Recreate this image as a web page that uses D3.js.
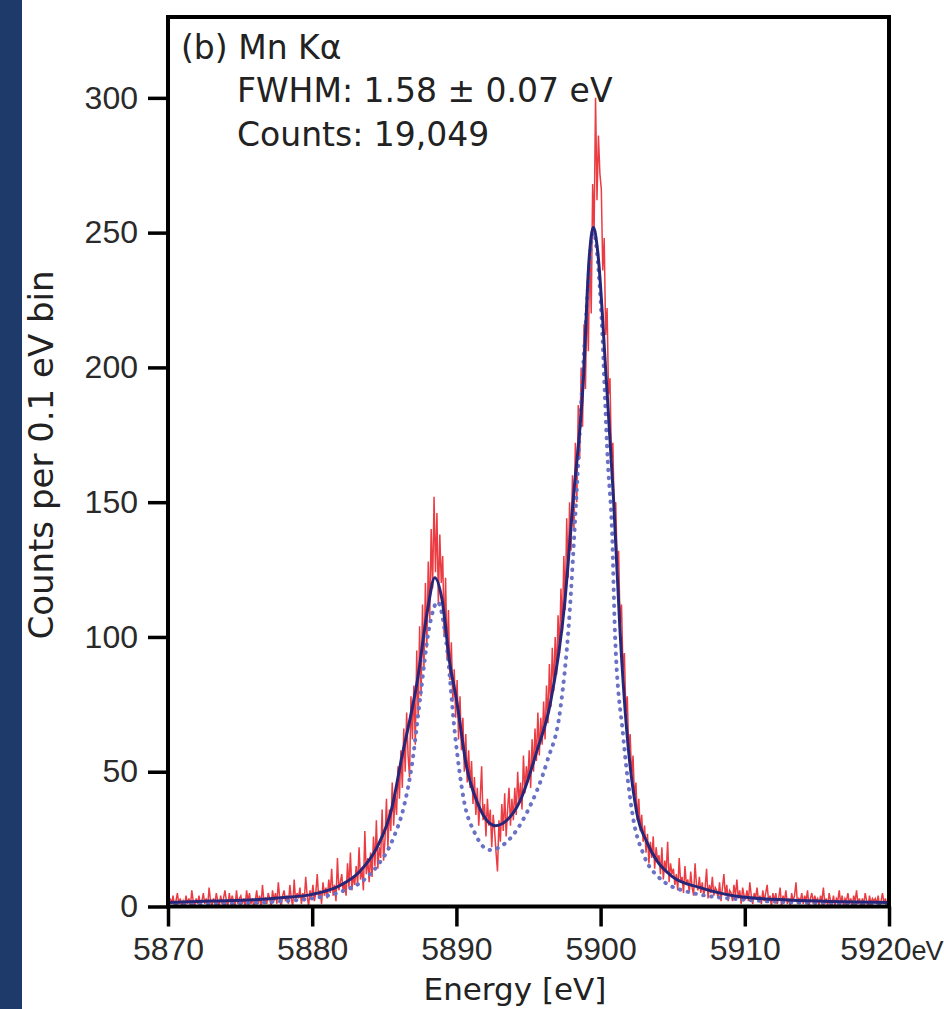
<html>

<head>
    <script src="https://d3js.org/d3.v7.min.js"></script>
    <style>
        body {
            margin: 0;
            background: #fff;
        }

        .tick text {
            font-family: "Liberation Sans", Arial, sans-serif;
            font-size: 32px;
            fill: #2a2a2a;
        }

        .tick line {
            stroke: #000;
            stroke-width: 3.5;
        }

        .domain {
            stroke: none;
        }

        .note {
            font-family: "DejaVu Sans", sans-serif;
            font-size: 33px;
            fill: #222;
        }
    </style>
</head>

<body>
    <svg id="spectrum_svg" width="944" height="1009"></svg>
    <script>
        // 0.1 eV bins starting at 5870 eV
        const binStart = 5870;
        const binWidth = 0.1;
        const counts = [
            0, 3, 1, 4, 0, 2, 5, 1, 3, 0,
            2, 0, 4, 1, 3, 0, 6, 2, 0, 3,
            1, 4, 0, 2, 5, 1, 3, 0, 7, 2,
            0, 3, 1, 5, 2, 0, 4, 1, 3, 6,
            2, 0, 5, 1, 4, 2, 0, 6, 1, 3,
            4, 1, 3, 0, 6, 2, 5, 1, 3, 0,
            2, 6, 1, 4, 0, 8, 2, 3, 1, 5,
            3, 0, 6, 2, 5, 1, 9, 3, 0, 4,
            6, 2, 4, 1, 8, 3, 0, 10, 2, 5,
            3, 7, 1, 5, 2, 11, 4, 0, 6, 3,
            8, 2, 5, 12, 3, 6, 1, 9, 4, 7,
            3, 10, 5, 14, 4, 8, 2, 18, 6, 9,
            12, 5, 9, 4, 16, 7, 20, 6, 11, 8,
            15, 8, 22, 10, 14, 6, 28, 12, 18, 9,
            20, 11, 26, 15, 32, 14, 22, 18, 36, 17,
            25, 40, 22, 36, 28, 46, 30, 42, 34, 52,
            40, 58, 44, 66, 50, 72, 56, 48, 78, 62,
            82, 60, 95, 70, 104, 78, 112, 88, 120, 96,
            128, 106, 140, 118, 152, 124, 146, 112, 138, 120,
            130, 100, 122, 92, 110, 84, 98, 76, 88, 70,
            84, 62, 78, 58, 70, 50, 64, 46, 58, 44,
            54, 38, 48, 34, 44, 30, 40, 52, 32, 38,
            26, 40, 30, 36, 22, 34, 28, 20, 13, 32,
            24, 38, 28, 42, 26, 36, 44, 30, 40, 32,
            44, 34, 50, 38, 46, 36, 56, 42, 52, 46,
            58, 44, 62, 50, 66, 54, 72, 56, 70, 60,
            76, 62, 82, 68, 90, 74, 96, 80, 100, 86,
            108, 94, 118, 102, 130, 110, 144, 122, 150, 132,
            160, 140, 172, 150, 186, 166, 200, 178, 216, 192,
            226, 206, 244, 220, 268, 250, 300, 262, 286, 272,
            266, 236, 248, 212, 222, 190, 196, 166, 172, 144,
            150, 126, 132, 104, 112, 88, 94, 72, 78, 58,
            64, 48, 56, 40, 46, 32, 40, 28, 34, 24,
            30, 20, 27, 16, 24, 18, 26, 14, 22, 17,
            19, 12, 22, 10, 17, 13, 24, 9, 16, 12,
            14, 8, 12, 6, 18, 9, 11, 5, 15, 8,
            10, 5, 13, 7, 4, 16, 8, 6, 11, 5,
            9, 4, 7, 14, 3, 8, 5, 11, 4, 7,
            6, 3, 9, 2, 7, 12, 4, 8, 2, 6,
            5, 2, 8, 4, 10, 3, 6, 1, 7, 4,
            3, 6, 2, 9, 4, 1, 5, 3, 7, 2,
            4, 1, 6, 2, 5, 8, 2, 4, 0, 5,
            2, 5, 1, 3, 7, 0, 4, 2, 6, 1,
            3, 0, 5, 2, 4, 9, 1, 3, 2, 5,
            1, 4, 2, 6, 0, 3, 5, 1, 4, 2,
            3, 0, 4, 2, 7, 1, 3, 0, 5, 2,
            1, 4, 0, 3, 2, 6, 1, 4, 0, 3,
            2, 5, 1, 3, 0, 4, 2, 6, 1, 3,
            0, 3, 1, 5, 2, 0, 4, 1, 3, 2,
            3, 1, 4, 0, 2, 5, 1, 3, 0, 2
        ];

        // fitted curve (solid)
        const fitEnergy = [5870, 5873, 5876, 5878, 5880, 5882, 5883.3, 5884.5, 5885.5, 5886.2, 5887.3, 5888, 5888.5,
            5889, 5889.55, 5890, 5890.7, 5891.5, 5892.7, 5893.5, 5894.4, 5895.6, 5896.5, 5897.5, 5898.1, 5898.8,
            5899.2, 5899.5, 5899.8, 5900.4, 5900.9, 5901.35, 5901.8, 5902.5, 5903.2, 5903.9, 5905, 5906.9,
            5909.7, 5913, 5920];
        const fitCounts = [1.5, 2, 2.5, 3.3, 4.5, 8, 13, 22, 36, 55, 84, 110, 122,
            114, 90, 77, 52, 38, 30, 32, 39, 58, 75, 112, 151, 195,
            240, 252, 243, 195, 151, 102, 66, 35, 24, 17, 11, 7,
            3.6, 2.4, 1.5];

        // intrinsic line shape (dotted)
        const lineEnergy = [5870, 5875, 5878, 5880, 5882, 5883.5, 5884.5, 5885.6, 5886.4, 5886.9, 5887.5, 5888.1,
            5888.7, 5889.3, 5889.9, 5890.5, 5891.3, 5892.3, 5893.5, 5894.9, 5896.3, 5897.2, 5897.8, 5898.3,
            5898.9, 5899.5, 5900, 5900.5, 5900.8, 5901, 5901.55, 5902.25, 5903, 5904, 5906, 5910, 5915, 5920];
        const lineCounts = [0.8, 1.2, 2, 3, 5.5, 9.5, 15, 25, 38, 52, 78, 103,
            113, 98, 64, 40, 27, 21, 24, 35, 54, 73, 105, 150,
            210, 250, 225, 165, 138, 101, 64, 33, 19, 11, 5.5, 2.5, 1.3, 0.9];

        const xTicks = [5870, 5880, 5890, 5900, 5910, 5920];
        const yTicks = [0, 50, 100, 150, 200, 250, 300];

        const svg = d3.select("#spectrum_svg");
        const margins = { "top": 17, "right": 55, "bottom": 102.5, "left": 168 };
        const width = +svg.attr("width");
        const height = +svg.attr("height");

        // dark band on the left edge
        svg.append("rect")
            .attr("x", 0).attr("y", 0)
            .attr("width", 22).attr("height", height)
            .attr("fill", "#1d3a6b");

        const xScale = d3.scaleLinear().domain([5870, 5920]).range([margins.left, width - margins.right]);
        const yScale = d3.scaleLinear().domain([0, 330]).range([height - margins.bottom, margins.top]);

        svg.append("clipPath").attr("id", "plotClip")
            .append("rect")
            .attr("x", margins.left).attr("y", margins.top)
            .attr("width", xScale.range()[1] - margins.left)
            .attr("height", yScale(0) - margins.top + 2);

        const plot = svg.append("g").attr("clip-path", "url(#plotClip)");

        const bins = counts.map((c, i) => ({ e: binStart + binWidth * (i + 0.5), c: c }));

        const dataLine = d3.line()
            .x(d => xScale(d.e))
            .y(d => yScale(d.c));

        plot.append("path")
            .datum(bins)
            .attr("d", dataLine)
            .attr("fill", "none")
            .attr("stroke", "#e8272d")
            .attr("stroke-width", 1.5)
            .attr("opacity", 0.9);

        const smoothLine = d3.line()
            .x(d => xScale(d[0]))
            .y(d => yScale(d[1]))
            .curve(d3.curveMonotoneX);

        plot.append("path")
            .datum(d3.zip(lineEnergy, lineCounts))
            .attr("d", smoothLine)
            .attr("fill", "none")
            .attr("stroke", "#6b72c6")
            .attr("stroke-width", 4)
            .attr("stroke-linecap", "round")
            .attr("stroke-dasharray", "0.5 7.5");

        plot.append("path")
            .datum(d3.zip(fitEnergy, fitCounts))
            .attr("d", smoothLine)
            .attr("fill", "none")
            .attr("stroke", "#27277a")
            .attr("stroke-width", 3);

        // axes
        const bottomAxis = d3.axisBottom(xScale)
            .tickValues(xTicks)
            .tickFormat(d3.format("d"))
            .tickSize(20)
            .tickPadding(11);
        const xAxisG = svg.append("g")
            .attr("class", "x axis")
            .attr("transform", "translate(0," + yScale(0) + ")")
            .call(bottomAxis);

        // last label carries the unit, ending at the right edge of the picture
        const lastLabel = xAxisG.selectAll(".tick text").filter(d => d === 5920);
        lastLabel
            .attr("text-anchor", "end")
            .attr("x", width - 2 - xScale(5920));
        lastLabel.append("tspan")
            .style("font-size", "27px")
            .style("letter-spacing", "-1px")
            .text("eV");

        const leftAxis = d3.axisLeft(yScale)
            .tickValues(yTicks)
            .tickSize(20)
            .tickPadding(10);
        svg.append("g")
            .attr("class", "y axis")
            .attr("transform", "translate(" + margins.left + ",0)")
            .call(leftAxis);

        // frame
        svg.append("rect")
            .attr("x", margins.left)
            .attr("y", margins.top)
            .attr("width", xScale.range()[1] - margins.left)
            .attr("height", yScale(0) - margins.top)
            .attr("fill", "none")
            .attr("stroke", "#000")
            .attr("stroke-width", 4);

        // axis titles
        svg.append("text")
            .attr("class", "note")
            .attr("x", 515)
            .attr("y", 1000)
            .attr("text-anchor", "middle")
            .style("font-size", "31px")
            .text("Energy [eV]");

        svg.append("text")
            .attr("class", "note")
            .attr("transform", "translate(53,455) rotate(-90)")
            .attr("text-anchor", "middle")
            .style("font-size", "34px")
            .text("Counts per 0.1 eV bin");

        // annotation
        svg.append("text").attr("class", "note").attr("x", 181).attr("y", 59).text("(b) Mn K\u03b1");
        svg.append("text").attr("class", "note").attr("x", 237).attr("y", 102).text("FWHM: 1.58 \u00b1 0.07 eV");
        svg.append("text").attr("class", "note").attr("x", 237).attr("y", 146).text("Counts: 19,049");
    </script>
</body>

</html>
